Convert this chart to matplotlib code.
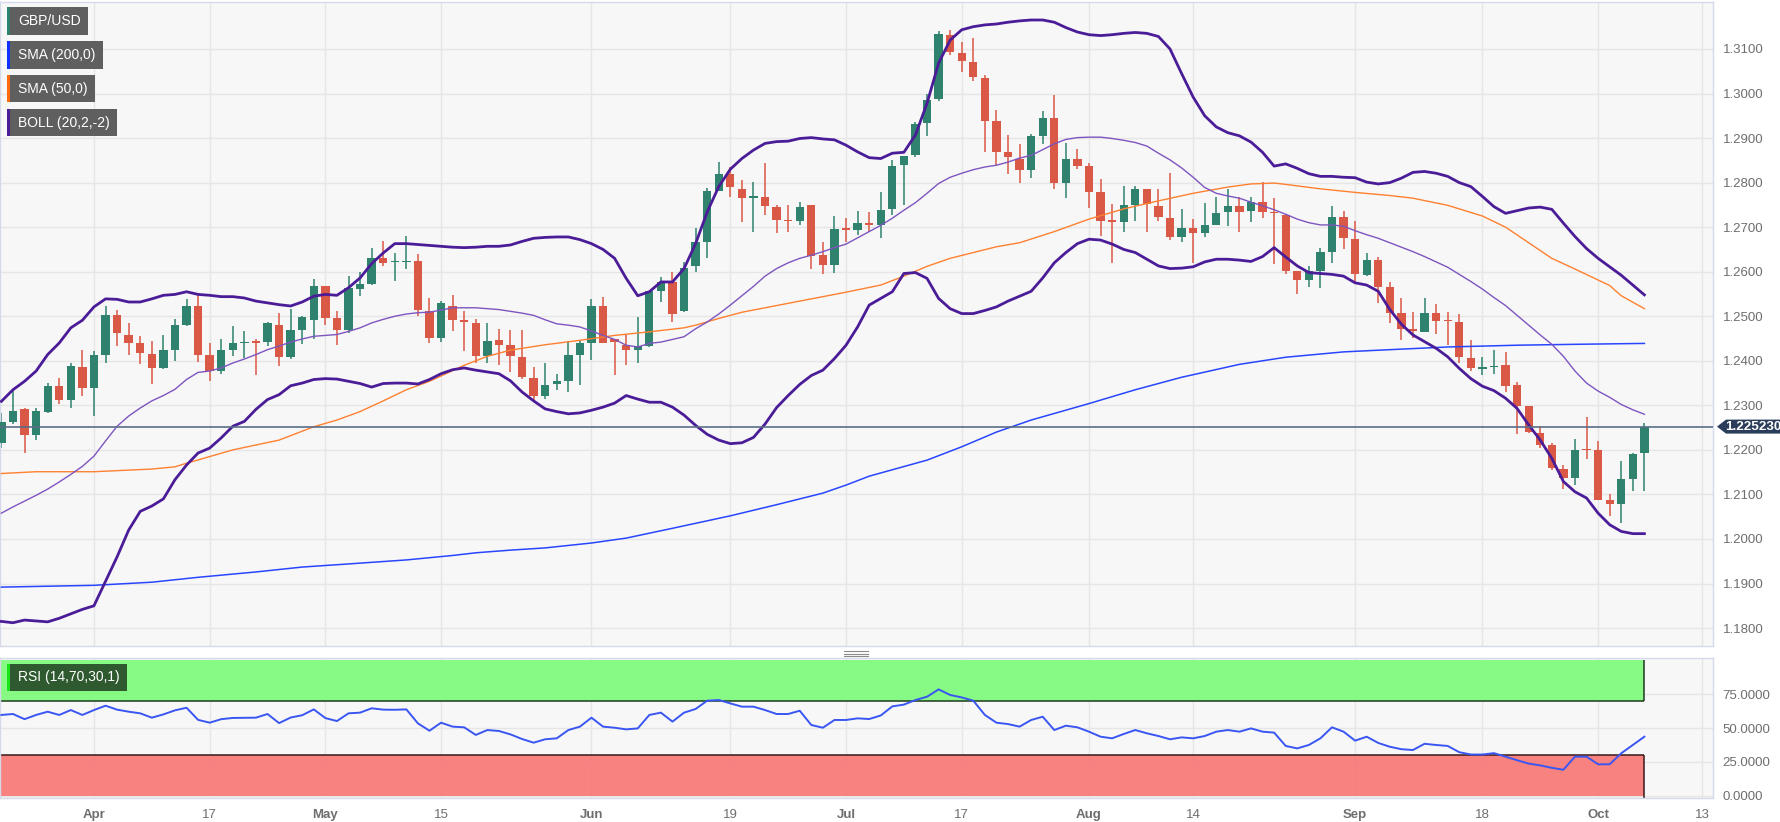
import numpy as np
import matplotlib
matplotlib.use('Agg')
import matplotlib.pyplot as plt
from matplotlib.patches import Rectangle, Polygon
from matplotlib.lines import Line2D
from matplotlib.transforms import blended_transform_factory

plt.rcParams['font.family'] = ['Liberation Sans', 'DejaVu Sans']

# --- data: GBP/USD daily, 22 Mar 2023 .. 6 Oct 2023 (weekdays) ---
start_day = '2023-03-22'
opens = [1.2215, 1.2263, 1.2291, 1.2234, 1.2285, 1.2343, 1.2313, 1.2386, 1.2339, 1.2413,
         1.2502, 1.2459, 1.2440, 1.2416, 1.2384, 1.2424, 1.2481, 1.2523, 1.2414, 1.2377,
         1.2425, 1.2440, 1.2443, 1.2442, 1.2481, 1.2409, 1.2469, 1.2491, 1.2569, 1.2496,
         1.2469, 1.2561, 1.2573, 1.2631, 1.2621, 1.2622, 1.2624, 1.2511, 1.2451, 1.2524,
         1.2490, 1.2484, 1.2410, 1.2446, 1.2436, 1.2409, 1.2361, 1.2322, 1.2349, 1.2354,
         1.2414, 1.2439, 1.2522, 1.2448, 1.2435, 1.2424, 1.2433, 1.2557, 1.2576, 1.2511,
         1.2613, 1.2666, 1.2782, 1.2819, 1.2785, 1.2766, 1.2768, 1.2746, 1.2716, 1.2713,
         1.2749, 1.2637, 1.2616, 1.2697, 1.2693, 1.2710, 1.2704, 1.2740, 1.2839, 1.2862,
         1.2933, 1.2988, 1.3131, 1.3090, 1.3070, 1.3034, 1.2938, 1.2868, 1.2853, 1.2829,
         1.2905, 1.2945, 1.2799, 1.2852, 1.2838, 1.2778, 1.2715, 1.2711, 1.2750, 1.2786,
         1.2747, 1.2720, 1.2679, 1.2697, 1.2686, 1.2705, 1.2735, 1.2748, 1.2737, 1.2757,
         1.2733, 1.2727, 1.2602, 1.2581, 1.2602, 1.2644, 1.2722, 1.2673, 1.2592, 1.2626,
         1.2565, 1.2507, 1.2472, 1.2465, 1.2507, 1.2491, 1.2487, 1.2407, 1.2382, 1.2386,
         1.2390, 1.2345, 1.2299, 1.2239, 1.2211, 1.2157, 1.2137, 1.2201, 1.2199, 1.2088,
         1.2079, 1.2135, 1.2194]
highs = [1.2282, 1.2335, 1.2294, 1.2294, 1.2350, 1.2362, 1.2394, 1.2424, 1.2423, 1.2524,
         1.2515, 1.2485, 1.2455, 1.2444, 1.2457, 1.2494, 1.2538, 1.2547, 1.2439, 1.2449,
         1.2478, 1.2468, 1.2449, 1.2487, 1.2508, 1.2517, 1.2500, 1.2584, 1.2569, 1.2511,
         1.2590, 1.2599, 1.2654, 1.2669, 1.2642, 1.2680, 1.2639, 1.2541, 1.2534, 1.2547,
         1.2511, 1.2494, 1.2484, 1.2471, 1.2469, 1.2469, 1.2386, 1.2394, 1.2371, 1.2444,
         1.2444, 1.2538, 1.2543, 1.2450, 1.2457, 1.2498, 1.2557, 1.2588, 1.2600, 1.2621,
         1.2699, 1.2787, 1.2847, 1.2836, 1.2806, 1.2802, 1.2845, 1.2749, 1.2749, 1.2757,
         1.2749, 1.2666, 1.2725, 1.2721, 1.2736, 1.2733, 1.2779, 1.2851, 1.2860, 1.2937,
         1.3000, 1.3140, 1.3143, 1.3116, 1.3125, 1.3042, 1.2963, 1.2906, 1.2887, 1.2910,
         1.2960, 1.2996, 1.2889, 1.2876, 1.2844, 1.2808, 1.2752, 1.2793, 1.2792, 1.2786,
         1.2786, 1.2822, 1.2741, 1.2718, 1.2754, 1.2767, 1.2786, 1.2767, 1.2767, 1.2801,
         1.2765, 1.2727, 1.2602, 1.2613, 1.2654, 1.2747, 1.2737, 1.2714, 1.2643, 1.2632,
         1.2577, 1.2540, 1.2510, 1.2540, 1.2528, 1.2510, 1.2504, 1.2446, 1.2409, 1.2424,
         1.2420, 1.2353, 1.2299, 1.2254, 1.2215, 1.2166, 1.2224, 1.2273, 1.2219, 1.2101,
         1.2176, 1.2194, 1.2260]
lows = [1.2205, 1.2258, 1.2192, 1.2223, 1.2283, 1.2304, 1.2294, 1.2322, 1.2276, 1.2395,
        1.2433, 1.2414, 1.2392, 1.2347, 1.2382, 1.2399, 1.2478, 1.2397, 1.2354, 1.2370,
        1.2410, 1.2406, 1.2368, 1.2433, 1.2388, 1.2405, 1.2437, 1.2449, 1.2481, 1.2435,
        1.2463, 1.2546, 1.2571, 1.2612, 1.2579, 1.2605, 1.2500, 1.2440, 1.2443, 1.2466,
        1.2422, 1.2394, 1.2394, 1.2391, 1.2375, 1.2360, 1.2307, 1.2315, 1.2334, 1.2330,
        1.2346, 1.2401, 1.2439, 1.2367, 1.2391, 1.2396, 1.2431, 1.2532, 1.2487, 1.2510,
        1.2600, 1.2630, 1.2782, 1.2768, 1.2712, 1.2690, 1.2727, 1.2686, 1.2688, 1.2705,
        1.2607, 1.2594, 1.2596, 1.2667, 1.2682, 1.2690, 1.2675, 1.2727, 1.2749, 1.2858,
        1.2905, 1.2983, 1.3087, 1.3049, 1.3027, 1.2869, 1.2839, 1.2820, 1.2799, 1.2810,
        1.2886, 1.2786, 1.2765, 1.2831, 1.2742, 1.2680, 1.2620, 1.2689, 1.2714, 1.2688,
        1.2714, 1.2671, 1.2667, 1.2619, 1.2679, 1.2705, 1.2703, 1.2689, 1.2712, 1.2720,
        1.2617, 1.2594, 1.2549, 1.2566, 1.2564, 1.2619, 1.2650, 1.2575, 1.2590, 1.2530,
        1.2484, 1.2446, 1.2452, 1.2465, 1.2460, 1.2435, 1.2394, 1.2378, 1.2368, 1.2370,
        1.2331, 1.2236, 1.2239, 1.2204, 1.2155, 1.2112, 1.2122, 1.2179, 1.2087, 1.2052,
        1.2037, 1.2107, 1.2107]
closes = [1.2263, 1.2288, 1.2234, 1.2287, 1.2343, 1.2313, 1.2388, 1.2339, 1.2413, 1.2502,
          1.2463, 1.2440, 1.2418, 1.2384, 1.2424, 1.2481, 1.2523, 1.2414, 1.2377, 1.2424,
          1.2439, 1.2443, 1.2441, 1.2485, 1.2409, 1.2469, 1.2499, 1.2568, 1.2496, 1.2469,
          1.2564, 1.2573, 1.2631, 1.2620, 1.2623, 1.2625, 1.2513, 1.2451, 1.2529, 1.2491,
          1.2488, 1.2410, 1.2445, 1.2436, 1.2410, 1.2364, 1.2322, 1.2345, 1.2354, 1.2412,
          1.2439, 1.2522, 1.2441, 1.2442, 1.2424, 1.2433, 1.2557, 1.2576, 1.2504, 1.2609,
          1.2666, 1.2782, 1.2819, 1.2791, 1.2766, 1.2767, 1.2748, 1.2716, 1.2714, 1.2746,
          1.2636, 1.2616, 1.2696, 1.2694, 1.2710, 1.2704, 1.2738, 1.2837, 1.2860, 1.2931,
          1.2985, 1.3134, 1.3093, 1.3073, 1.3036, 1.2938, 1.2868, 1.2857, 1.2829, 1.2905,
          1.2945, 1.2799, 1.2852, 1.2838, 1.2778, 1.2714, 1.2712, 1.2750, 1.2786, 1.2752,
          1.2722, 1.2677, 1.2697, 1.2686, 1.2705, 1.2732, 1.2748, 1.2735, 1.2757, 1.2735,
          1.2731, 1.2602, 1.2581, 1.2602, 1.2644, 1.2722, 1.2675, 1.2594, 1.2626, 1.2566,
          1.2507, 1.2472, 1.2467, 1.2507, 1.2490, 1.2489, 1.2409, 1.2383, 1.2384, 1.2389,
          1.2343, 1.2299, 1.2241, 1.2211, 1.2159, 1.2137, 1.2200, 1.2199, 1.2088, 1.2079,
          1.2135, 1.2191, 1.2252]

boll_upper = [1.2309, 1.2335, 1.2354, 1.2377, 1.2414, 1.2440, 1.2474, 1.2491, 1.2521, 1.2539,
              1.2538, 1.2532, 1.2532, 1.2539, 1.2547, 1.2549, 1.2555, 1.2549, 1.2547, 1.2544,
              1.2544, 1.2541, 1.2534, 1.2530, 1.2526, 1.2523, 1.2532, 1.2545, 1.2549, 1.2547,
              1.2564, 1.2586, 1.2618, 1.2642, 1.2663, 1.2663, 1.2661, 1.2659, 1.2657, 1.2655,
              1.2654, 1.2655, 1.2657, 1.2657, 1.2660, 1.2668, 1.2675, 1.2677, 1.2678, 1.2678,
              1.2672, 1.2663, 1.2650, 1.2630, 1.2585, 1.2546, 1.2555, 1.2577, 1.2577, 1.2607,
              1.2663, 1.2734, 1.2791, 1.2830, 1.2854, 1.2873, 1.2888, 1.2892, 1.2893, 1.2899,
              1.2901, 1.2898, 1.2896, 1.2884, 1.2869, 1.2856, 1.2854, 1.2866, 1.2868, 1.2907,
              1.2978, 1.3068, 1.3120, 1.3143, 1.3150, 1.3154, 1.3156, 1.3160, 1.3163, 1.3165,
              1.3165, 1.3160, 1.3148, 1.3138, 1.3132, 1.3130, 1.3132, 1.3135, 1.3137, 1.3135,
              1.3128, 1.3100, 1.3045, 1.2992, 1.2950, 1.2925, 1.2912, 1.2905, 1.2891, 1.2868,
              1.2837, 1.2842, 1.2832, 1.2820, 1.2814, 1.2814, 1.2812, 1.2811, 1.2801, 1.2797,
              1.2800, 1.2810, 1.2823, 1.2825, 1.2821, 1.2814, 1.2800, 1.2791, 1.2769, 1.2746,
              1.2731, 1.2737, 1.2743, 1.2745, 1.2740, 1.2709, 1.2679, 1.2652, 1.2630, 1.2611,
              1.2592, 1.2570, 1.2548]
boll_mid = [1.2058, 1.2072, 1.2085, 1.2098, 1.2112, 1.2128, 1.2145, 1.2163, 1.2186, 1.2220,
            1.2253, 1.2276, 1.2294, 1.2310, 1.2322, 1.2336, 1.2358, 1.2374, 1.2377, 1.2384,
            1.2395, 1.2404, 1.2414, 1.2425, 1.2433, 1.2442, 1.2449, 1.2455, 1.2457, 1.2459,
            1.2466, 1.2474, 1.2485, 1.2493, 1.2500, 1.2505, 1.2508, 1.2509, 1.2514, 1.2519,
            1.2519, 1.2519, 1.2517, 1.2515, 1.2511, 1.2507, 1.2502, 1.2492, 1.2483, 1.2480,
            1.2476, 1.2467, 1.2457, 1.2448, 1.2435, 1.2431, 1.2439, 1.2442, 1.2448, 1.2454,
            1.2472, 1.2487, 1.2505, 1.2525, 1.2546, 1.2567, 1.2590, 1.2607, 1.2620, 1.2630,
            1.2637, 1.2645, 1.2654, 1.2662, 1.2676, 1.2690, 1.2704, 1.2720, 1.2738, 1.2755,
            1.2776, 1.2798, 1.2812, 1.2821, 1.2829, 1.2835, 1.2839, 1.2846, 1.2855, 1.2861,
            1.2874, 1.2887, 1.2897, 1.2901, 1.2902, 1.2902, 1.2899, 1.2895, 1.2890, 1.2882,
            1.2866, 1.2851, 1.2833, 1.2812, 1.2789, 1.2776, 1.2770, 1.2765, 1.2756, 1.2748,
            1.2739, 1.2729, 1.2718, 1.2710, 1.2705, 1.2705, 1.2702, 1.2692, 1.2683, 1.2675,
            1.2665, 1.2655, 1.2645, 1.2634, 1.2622, 1.2610, 1.2594, 1.2578, 1.2561, 1.2542,
            1.2524, 1.2502, 1.2480, 1.2458, 1.2437, 1.2410, 1.2377, 1.2350, 1.2332, 1.2318,
            1.2302, 1.2290, 1.2280]
boll_lower = [1.1815, 1.1812, 1.1818, 1.1816, 1.1814, 1.1822, 1.1832, 1.1842, 1.1850, 1.1905,
              1.1960, 1.2020, 1.2062, 1.2074, 1.2090, 1.2133, 1.2166, 1.2193, 1.2204, 1.2227,
              1.2253, 1.2264, 1.2291, 1.2313, 1.2324, 1.2344, 1.2350, 1.2358, 1.2360, 1.2359,
              1.2354, 1.2349, 1.2341, 1.2349, 1.2350, 1.2350, 1.2348, 1.2358, 1.2371, 1.2380,
              1.2384, 1.2379, 1.2375, 1.2371, 1.2355, 1.2330, 1.2310, 1.2292, 1.2286, 1.2281,
              1.2283, 1.2289, 1.2296, 1.2305, 1.2322, 1.2314, 1.2307, 1.2307, 1.2296, 1.2278,
              1.2255, 1.2235, 1.2222, 1.2214, 1.2216, 1.2228, 1.2258, 1.2295, 1.2322, 1.2347,
              1.2367, 1.2379, 1.2405, 1.2435, 1.2476, 1.2525, 1.2540, 1.2555, 1.2596, 1.2598,
              1.2585, 1.2540, 1.2517, 1.2506, 1.2506, 1.2513, 1.2521, 1.2534, 1.2545, 1.2556,
              1.2586, 1.2620, 1.2643, 1.2663, 1.2673, 1.2671, 1.2662, 1.2650, 1.2643, 1.2628,
              1.2613, 1.2607, 1.2608, 1.2611, 1.2622, 1.2628, 1.2628, 1.2626, 1.2623, 1.2634,
              1.2654, 1.2633, 1.2613, 1.2598, 1.2596, 1.2594, 1.2590, 1.2575, 1.2570, 1.2556,
              1.2515, 1.2482, 1.2458, 1.2443, 1.2428, 1.2409, 1.2383, 1.2360, 1.2343, 1.2333,
              1.2316, 1.2293, 1.2256, 1.2222, 1.2181, 1.2129, 1.2106, 1.2092, 1.2058, 1.2032,
              1.2017, 1.2012, 1.2012]

# moving averages read at selected bars: (bar number, value)
sma50_bar = [0, 3, 8, 13, 15, 16, 18, 20, 24, 27, 29, 31, 33, 35, 37, 40, 42, 44, 47, 50,
             53, 56, 59, 60, 62, 64, 67, 70, 73, 76, 78, 80, 82, 84, 86, 88, 91, 94, 97, 100,
             103, 106, 108, 110, 111, 114, 117, 120, 122, 125, 128, 130, 132, 134, 136, 139,
             140, 142]
sma50_val = [1.2147, 1.2151, 1.2151, 1.2157, 1.2162, 1.2170, 1.2185, 1.2200, 1.2222, 1.2252,
             1.2267, 1.2286, 1.2310, 1.2335, 1.2354, 1.2390, 1.2410, 1.2424, 1.2436, 1.2446,
             1.2457, 1.2465, 1.2474, 1.2480, 1.2495, 1.2509, 1.2524, 1.2539, 1.2554, 1.2570,
             1.2590, 1.2612, 1.2630, 1.2643, 1.2656, 1.2665, 1.2690, 1.2718, 1.2741, 1.2759,
             1.2776, 1.2790, 1.2797, 1.2799, 1.2796, 1.2786, 1.2778, 1.2771, 1.2765, 1.2749,
             1.2725, 1.2700, 1.2665, 1.2630, 1.2606, 1.2569, 1.2546, 1.2517]
sma200_bar = [0, 8, 13, 17, 22, 26, 30, 35, 39, 41, 44, 47, 51, 54, 58, 63, 67, 71, 73, 75,
              80, 83, 86, 89, 94, 98, 102, 107, 111, 116, 120, 125, 131, 136, 142]
sma200_val = [1.1892, 1.1896, 1.1903, 1.1914, 1.1926, 1.1937, 1.1944, 1.1953, 1.1963, 1.1969,
              1.1975, 1.1980, 1.1991, 1.2002, 1.2024, 1.2052, 1.2077, 1.2103, 1.2121, 1.2141,
              1.2177, 1.2207, 1.2240, 1.2267, 1.2304, 1.2335, 1.2363, 1.2392, 1.2408, 1.2420,
              1.2425, 1.2431, 1.2435, 1.2437, 1.2439]

rsi = [59.6, 60.3, 56.5, 59.6, 62.0, 59.6, 63.2, 59.6, 63.2, 66.4,
       63.5, 62.0, 60.8, 57.6, 60.0, 63.0, 64.9, 56.0, 53.9, 56.5,
       57.4, 57.5, 57.6, 60.3, 53.6, 57.7, 59.4, 63.7, 57.3, 55.1,
       60.8, 61.3, 64.5, 63.5, 63.4, 63.7, 53.4, 48.0, 53.9, 51.0,
       50.5, 44.9, 48.5, 47.8, 45.3, 41.9, 39.2, 41.7, 42.4, 48.5,
       51.0, 57.6, 51.0, 50.2, 49.0, 49.7, 59.6, 61.3, 54.7, 61.3,
       64.0, 70.1, 70.6, 68.1, 65.7, 65.7, 63.2, 60.3, 60.3, 62.7,
       52.2, 50.2, 55.9, 55.9, 57.1, 56.6, 59.2, 65.9, 67.2, 70.6,
       73.0, 78.4, 74.3, 72.5, 70.1, 59.6, 53.9, 52.9, 51.0, 55.9,
       58.3, 48.5, 51.7, 50.5, 47.3, 43.6, 42.4, 45.6, 48.5, 46.1,
       44.1, 41.7, 43.1, 42.4, 44.1, 47.3, 48.5, 47.3, 49.7, 47.3,
       46.6, 36.8, 35.0, 37.5, 42.4, 50.5, 47.3, 40.7, 43.6, 39.0,
       36.2, 34.4, 33.8, 38.4, 37.5, 36.8, 32.2, 30.5, 30.5, 31.5,
       28.9, 26.3, 23.8, 22.5, 20.7, 19.3, 28.9, 28.9, 23.3, 23.3,
       31.4, 37.5, 43.6]

last_price = 1.22523
tick_days = ['2023-04-03', '2023-04-17', '2023-05-01', '2023-05-15', '2023-06-01',
             '2023-06-19', '2023-07-03', '2023-07-17', '2023-08-01', '2023-08-14',
             '2023-09-01', '2023-09-18', '2023-10-02', '2023-10-13']
tick_text = ['Apr', '17', 'May', '15', 'Jun', '19', 'Jul', '17', 'Aug', '14',
             'Sep', '18', 'Oct', '13']
price_ticks = [1.18, 1.19, 1.20, 1.21, 1.22, 1.23, 1.24, 1.25, 1.26, 1.27, 1.28, 1.29, 1.30, 1.31]
rsi_ticks = [0, 25, 50, 75]

# --- layout helpers (pixels of the 1781x822 picture) ---
W, H = 1781, 822
def fx(px): return px / W
def fy(py): return 1 - py / H

UP, DOWN = '#2e826e', '#d95846'
GRID = '#e6e6e6'
BG = '#f7f7f7'
EDGE = '#d6d9ea'
LBL = '#6e6e6e'

n = len(closes)
bars = np.arange(n)
o = np.array(opens); c = np.array(closes)
h = np.array(highs); l = np.array(lows)
tick_pos = [int(np.busday_count(start_day, d)) for d in tick_days]
xlim = (-0.12, 147.93)

fig = plt.figure(figsize=(W / 100, H / 100), dpi=100)
ax = fig.add_axes([0, fy(646), 1713 / W, (646 - 2) / H])
ax2 = fig.add_axes([0, fy(798), 1713 / W, (798 - 658) / H])

for a in (ax, ax2):
    a.set_facecolor(BG)
    a.set_xlim(*xlim)
    a.set_xticks(tick_pos)
    a.grid(True, color=GRID, lw=1)
    a.set_axisbelow(True)
    for s in a.spines.values():
        s.set_color(EDGE)
        s.set_linewidth(1)
    a.yaxis.tick_right()
    a.tick_params(length=0, labelsize=9.5, labelcolor=LBL, pad=7)

# candles
col = np.where(c >= o, UP, DOWN)
ax.vlines(bars, l, h, colors=col, lw=1.1, zorder=2)
body_lo = np.minimum(o, c)
body_h = np.maximum(np.abs(c - o), 0.0003)
ax.bar(bars, body_h, bottom=body_lo, width=0.72, color=col, lw=0, zorder=3)

# indicators
ax.plot(sma200_bar, sma200_val, color='#2846ff', lw=1.1, zorder=4)
ax.plot(sma50_bar, sma50_val, color='#ff8030', lw=1.0, zorder=4)
ax.plot(bars, boll_mid, color='#7e55c0', lw=1.0, zorder=4)
ax.plot(bars, boll_upper, color='#4b1c98', lw=2.0, zorder=5)
ax.plot(bars, boll_lower, color='#4b1c98', lw=2.0, zorder=5)
ax.axhline(last_price, color='#5a6d88', lw=1.2, zorder=6)

ax.set_ylim(1.17598, 1.32054)
ax.set_yticks(price_ticks)
ax.set_yticklabels(['%.4f' % v for v in price_ticks])
ax.set_xticklabels([])

# last price tag (figure-level so it sits above the axes)
bt = blended_transform_factory(fig.transFigure, ax.transData)
hh = 7 / 4455
tag = Polygon([(fx(1717), last_price), (fx(1726), last_price + hh), (1.0, last_price + hh),
               (1.0, last_price - hh), (fx(1726), last_price - hh)],
              closed=True, transform=bt, facecolor='#2a3d5a', edgecolor='none',
              clip_on=False, zorder=5)
fig.add_artist(tag)
fig.text(fx(1753), last_price, '%.6f' % last_price, transform=bt, ha='center', va='center',
         color='white', fontsize=9.7, fontweight='bold', zorder=6)

# RSI panel
ax2.set_ylim(-1.5, 101.5)
last = bars[-1]
ax2.fill_between([xlim[0], last], 70, 100, color='#7dfb7a', lw=0, alpha=0.92, zorder=1)
ax2.fill_between([xlim[0], last], 0, 30, color='#f87876', lw=0, alpha=0.92, zorder=1)
ax2.hlines([70, 30], xlim[0], last, colors=['#1f3a1f', '#3a1a1a'], lw=1.1, zorder=2)
ax2.vlines(last, 70, 100, colors='#1f3a1f', lw=1.1, zorder=2)
ax2.vlines(last, -1.5, 30, colors='#3a1a1a', lw=1.1, zorder=2)
ax2.plot(bars, rsi, color='#3a56f2', lw=1.4, zorder=3)
ax2.set_yticks(rsi_ticks)
ax2.set_yticklabels(['%.4f' % v for v in rsi_ticks])
ax2.set_xticklabels(tick_text)
ax2.tick_params(axis='x', pad=8)
for t in ax2.get_xticklabels():
    if not t.get_text().isdigit():
        t.set_fontweight('bold')

# legend boxes top-left
legend = [('GBP/USD', 7, 88, 7, 35, '#2e826e'),
          ('SMA (200,0)', 7, 103, 41, 69, '#1030ff'),
          ('SMA (50,0)', 7, 95, 75, 102, '#ff6a10'),
          ('BOLL (20,2,-2)', 7, 117, 109, 136, '#4b1c98')]
for name, x0, x1, y0, y1, sc in legend:
    fig.add_artist(Rectangle((fx(x0), fy(y1)), (x1 - x0) / W, (y1 - y0) / H,
                             transform=fig.transFigure, facecolor='#595959', alpha=0.96, lw=0))
    fig.add_artist(Rectangle((fx(x0), fy(y1)), 3 / W, (y1 - y0) / H,
                             transform=fig.transFigure, facecolor=sc, lw=0))
    fig.text(fx(18), fy((y0 + y1) / 2), name, color='white', fontsize=10, va='center')

fig.add_artist(Rectangle((fx(7), fy(691)), 120 / W, 27 / H, transform=fig.transFigure,
                         facecolor='#2f5a2f', lw=0))
fig.add_artist(Rectangle((fx(7), fy(691)), 3 / W, 27 / H, transform=fig.transFigure,
                         facecolor='#19e619', lw=0))
fig.text(fx(18), fy(677.5), 'RSI (14,70,30,1)', color='white', fontsize=10, va='center')

# panel drag handle
for yy in (651, 653.5, 656):
    fig.add_artist(Line2D([fx(844), fx(868)], [fy(yy), fy(yy)], color='#8a8a8a', lw=0.8,
                          transform=fig.transFigure))

fig.savefig('out.png', dpi=100, facecolor='white')
